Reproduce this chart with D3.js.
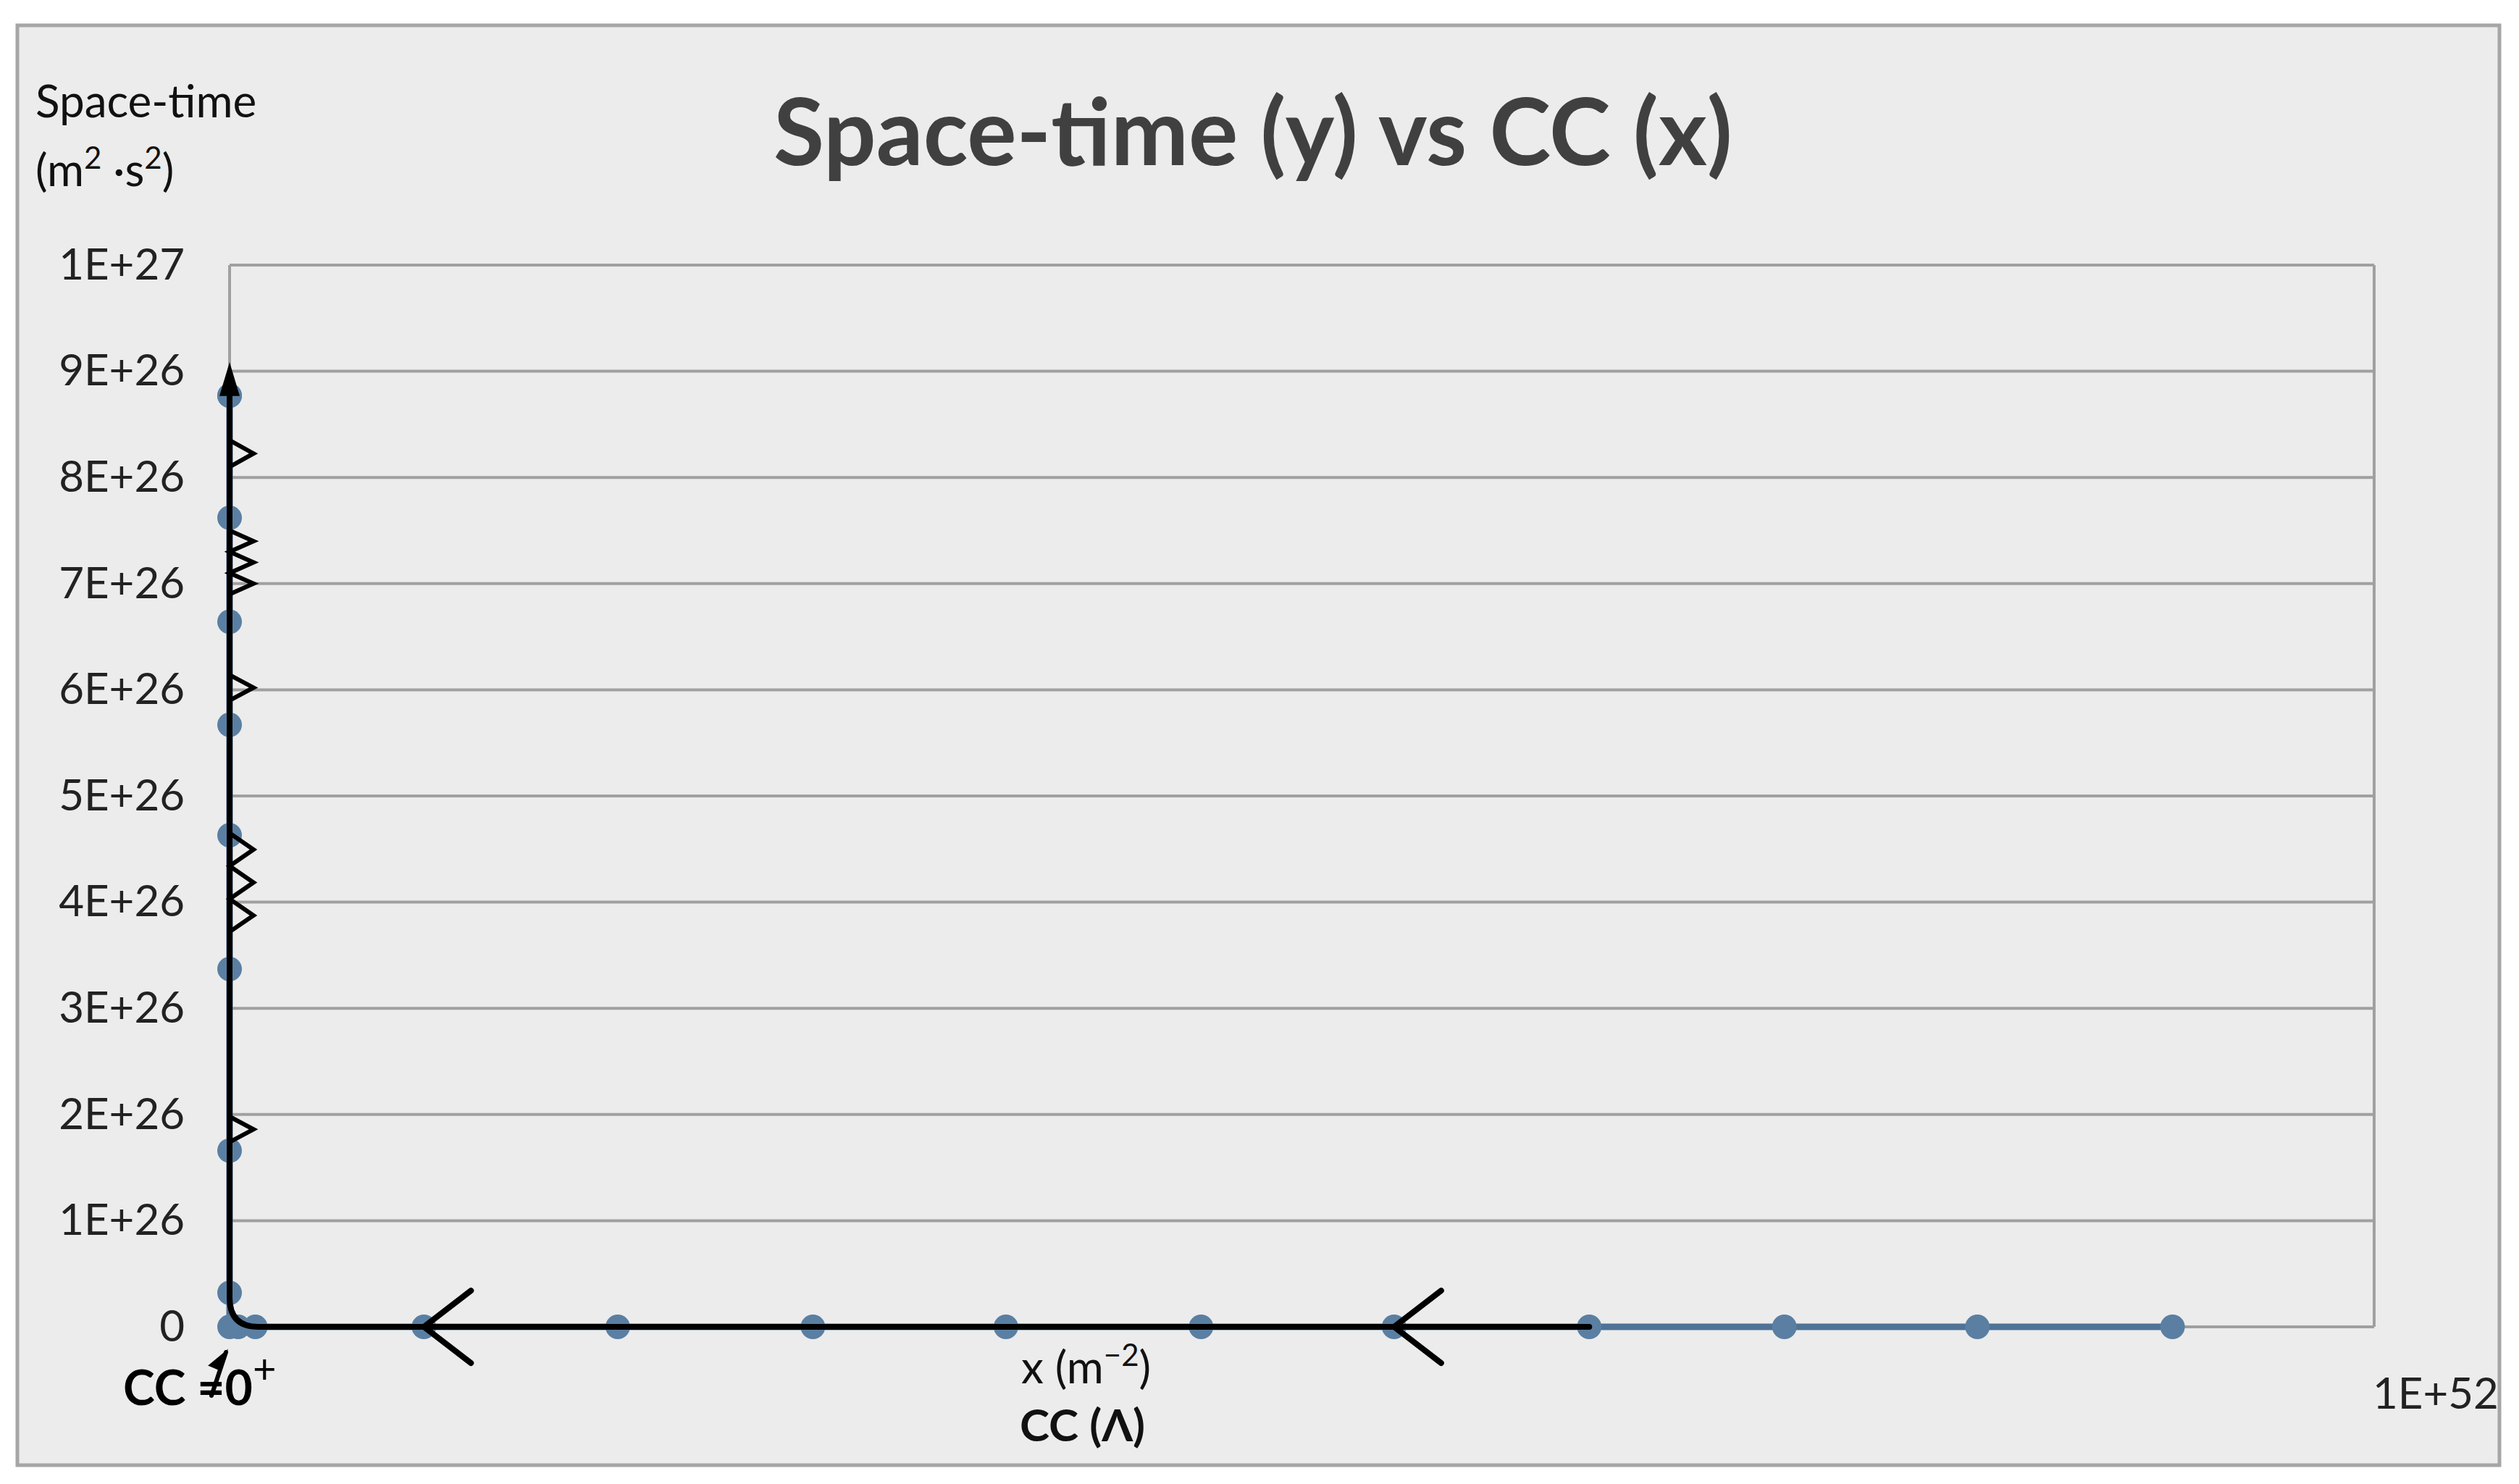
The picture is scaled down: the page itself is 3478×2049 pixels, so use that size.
<!DOCTYPE html><html><head><meta charset="utf-8">
<script src="https://d3js.org/d3.v7.min.js"></script>
<style>body{margin:0;background:#fff}svg{display:block}</style></head><body>
<script>
// data
const ccValues = [9.06e51, 8.15e51, 7.25e51, 6.34e51, 5.43e51, 4.53e51, 3.62e51, 2.72e51, 1.81e51, 9.06e50, 1.2e50, 4e49, 0, 0, 0, 0, 0, 0, 0, 0, 0, 0];
const stValues = [0, 0, 0, 0, 0, 0, 0, 0, 0, 0, 0, 0, 0, 3.2e25, 1.66e26, 3.37e26, 4.63e26, 5.67e26, 6.64e26, 7.62e26, 8.77e26, 8.77e26];
const yTickLabels = ["0","1E+26","2E+26","3E+26","4E+26","5E+26","6E+26","7E+26","8E+26","9E+26","1E+27"];
const yTickValues = [0,1e26,2e26,3e26,4e26,5e26,6e26,7e26,8e26,9e26,1e27];
const xEndLabel = "1E+52";
// annotation (hand-drawn) in data units
const zigzagSpans = [[8.35e26,8.1e26,1],[7.5e26,6.9e26,3],[6.14e26,5.9e26,1],[4.65e26,3.72e26,3],[1.98e26,1.74e26,1]];
const hArrowTips = [9.06e50, 5.43e51];
const annStartX = 6.34e51, annTopY = 9.05e26;

const W=3478,H=2049;
const svg=d3.select("body").append("svg").attr("width",W).attr("height",H);
const F="Lato, 'Open Sans', sans-serif";
svg.append("rect").attr("x",24).attr("y",35).attr("width",3427).attr("height",1988).attr("fill","#ececec").attr("stroke","#a6a6a6").attr("stroke-width",5);
const L=317,R=3278,T=366,B=1832;
const x=d3.scaleLinear().domain([0,1e52]).range([L,R]);
const y=d3.scaleLinear().domain([0,1e27]).range([B,T]);
const g=svg.append("g");
// gridlines
g.selectAll("line.grid").data(yTickValues).join("line").attr("x1",L).attr("x2",R)
 .attr("y1",d=>y(d)).attr("y2",d=>y(d)).attr("stroke","#a0a0a0").attr("stroke-width",4);
g.append("line").attr("x1",R).attr("x2",R).attr("y1",T).attr("y2",B).attr("stroke","#a0a0a0").attr("stroke-width",4);
g.append("line").attr("x1",L).attr("x2",L).attr("y1",T).attr("y2",B).attr("stroke","#a0a0a0").attr("stroke-width",4);
const ax=g.append("g").attr("transform",`translate(${L},0)`).call(d3.axisLeft(y).tickValues(yTickValues).tickFormat((d,i)=>yTickLabels[i]).tickSize(0).tickPadding(62));
ax.select(".domain").remove();
ax.selectAll("text").attr("font-family",F).attr("font-size",60).attr("fill","#222");
svg.append("text").attr("x",3363).attr("y",1945).attr("text-anchor","middle").attr("font-family",F).attr("font-size",60).attr("fill","#222").text(xEndLabel);
// series
const pts=ccValues.map((c,i)=>[c,stValues[i]]);
g.append("path").datum(pts.slice(0,12).concat(pts.slice(12))).attr("fill","none").attr("stroke","#4f7396").attr("stroke-width",9)
 .attr("d",d3.line().x(d=>x(d[0])).y(d=>y(d[1])));
g.selectAll("circle").data(pts).join("circle").attr("cx",d=>x(d[0])).attr("cy",d=>y(d[1])).attr("r",17).attr("fill","#5a7fa2");
// annotation
const a=svg.append("g").attr("stroke","#000").attr("fill","none").attr("stroke-width",8).attr("stroke-linecap","round");
const r0=40;
a.append("path").attr("d",`M${x(annStartX)},${B} L${L+r0},${B} Q${L},${B} ${L},${B-r0} L${L},${y(annTopY)+30}`);
a.append("path").attr("d",`M${L},${y(annTopY)} l-12,40 l24,0 z`).attr("fill","#000").attr("stroke-width",3);
hArrowTips.forEach(t=>a.append("path").attr("d",`M${x(t)+65},${B-50} L${x(t)},${B} L${x(t)+65},${B+50}`));
zigzagSpans.forEach(([top,bot,n])=>{
 const y0=y(top),y1=y(bot),h=(y1-y0)/n;let d=`M${L},${y0}`;
 for(let i=0;i<n;i++){d+=` L${L+33},${y0+h*(i+0.5)} L${L},${y0+h*(i+1)}`;}
 a.append("path").attr("d",d).attr("stroke-width",6);
});
a.append("path").attr("d",`M${L-25},${B+95} L${L-5},${B+35}`).attr("stroke-width",6);
a.append("path").attr("d",`M${L-5},${B+35} l-22,18 l14,6 z`).attr("fill","#000").attr("stroke-width",3);
// text
svg.append("text").attr("x",1730).attr("y",228).attr("text-anchor","middle").attr("font-family",F).attr("font-weight",700).attr("font-size",128).attr("fill","#404040").text("Space-time (y)  vs CC (x)");
svg.append("text").attr("x",49).attr("y",162).attr("font-family",F).attr("font-size",62).attr("fill","#111").text("Space-time");
const u=svg.append("text").attr("x",49).attr("y",257).attr("font-family",F).attr("font-size",62).attr("fill","#111");
u.append("tspan").text("(m");u.append("tspan").attr("font-size",42).attr("dy",-24).text("2");
u.append("tspan").attr("dy",24).text(" ·s");u.append("tspan").attr("font-size",42).attr("dy",-24).text("2");u.append("tspan").attr("dy",24).text(")");
const c0=svg.append("text").attr("x",170).attr("y",1940).attr("font-family",F).attr("font-weight",700).attr("font-size",66).attr("fill","#000");
c0.append("tspan").text("CC =0");c0.append("tspan").attr("font-weight",400).attr("font-size",56).attr("dy",-30).text("+");
const xl=svg.append("text").attr("x",1410).attr("y",1910).attr("font-family",F).attr("font-size",62).attr("fill","#111");
xl.append("tspan").text("x  (m");xl.append("tspan").attr("font-size",42).attr("dy",-24).text("−2");xl.append("tspan").attr("dy",24).text(")");
svg.append("text").attr("x",1408).attr("y",1990).attr("font-family",F).attr("font-weight",700).attr("font-size",62).attr("fill","#111").text("CC (Λ)");
</script></body></html>
